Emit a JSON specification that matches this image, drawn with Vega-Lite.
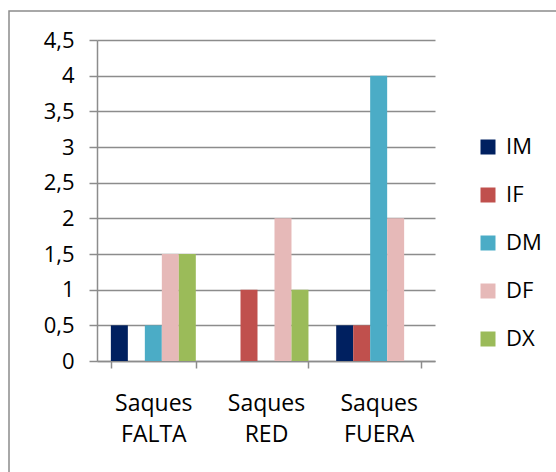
{
  "$schema": "https://vega.github.io/schema/vega-lite/v6.json",
  "autosize": {"type": "none"},
  "padding": {"left": 9, "top": 11, "right": 0, "bottom": 0},
  "width": 560,
  "height": 470,
  "background": "white",
  "config": {
    "font": "Open Sans",
    "view": {"stroke": "#8c8c8c", "strokeWidth": 1.5}
  },
  "data": {
    "values": [
      {"cat": "Saques FALTA", "serie": "IM", "v": 0.5},
      {"cat": "Saques FALTA", "serie": "IF", "v": 0},
      {"cat": "Saques FALTA", "serie": "DM", "v": 0.5},
      {"cat": "Saques FALTA", "serie": "DF", "v": 1.5},
      {"cat": "Saques FALTA", "serie": "DX", "v": 1.5},
      {"cat": "Saques RED", "serie": "IM", "v": 0},
      {"cat": "Saques RED", "serie": "IF", "v": 1},
      {"cat": "Saques RED", "serie": "DM", "v": 0},
      {"cat": "Saques RED", "serie": "DF", "v": 2},
      {"cat": "Saques RED", "serie": "DX", "v": 1},
      {"cat": "Saques FUERA", "serie": "IM", "v": 0.5},
      {"cat": "Saques FUERA", "serie": "IF", "v": 0.5},
      {"cat": "Saques FUERA", "serie": "DM", "v": 4},
      {"cat": "Saques FUERA", "serie": "DF", "v": 2},
      {"cat": "Saques FUERA", "serie": "DX", "v": 0}
    ]
  },
  "mark": {"type": "bar"},
  "encoding": {
    "x": {
      "field": "cat",
      "type": "nominal",
      "sort": ["Saques FALTA", "Saques RED", "Saques FUERA"],
      "scale": {"range": [88, 426], "paddingInner": 0.246, "paddingOuter": 0.123},
      "axis": {
        "title": null,
        "offset": -120,
        "labelAngle": 0,
        "labelExpr": "split(datum.label, ' ')",
        "labelFontSize": 23,
        "labelLineHeight": 31,
        "labelPadding": 24,
        "labelColor": "#000000",
        "domainColor": "#8c8c8c",
        "domainWidth": 1.5,
        "tickColor": "#8c8c8c",
        "tickWidth": 1.5,
        "tickSize": 7,
        "tickBand": "extent",
        "grid": false
      }
    },
    "xOffset": {
      "field": "serie",
      "type": "nominal",
      "sort": ["IM", "IF", "DM", "DF", "DX"],
      "scale": {"paddingInner": 0, "paddingOuter": 0}
    },
    "y": {
      "field": "v",
      "type": "quantitative",
      "scale": {"domain": [0, 4.5], "range": [350, 29], "nice": false},
      "axis": {
        "title": null,
        "offset": -88,
        "values": [0, 0.5, 1, 1.5, 2, 2.5, 3, 3.5, 4, 4.5],
        "format": "~g",
        "labelExpr": "replace(datum.label, '.', ',')",
        "labelFontSize": 22,
        "labelPadding": 15,
        "labelColor": "#000000",
        "domainColor": "#8c8c8c",
        "domainWidth": 1.5,
        "tickColor": "#8c8c8c",
        "tickWidth": 1.5,
        "tickSize": 8,
        "grid": true,
        "gridColor": "#8c8c8c",
        "gridWidth": 1.5
      }
    },
    "color": {
      "field": "serie",
      "type": "nominal",
      "sort": ["IM", "IF", "DM", "DF", "DX"],
      "scale": {
        "domain": ["IM", "IF", "DM", "DF", "DX"],
        "range": ["#002060", "#C0504D", "#4BACC6", "#E6B9B8", "#9BBB59"]
      },
      "legend": {
        "title": null,
        "orient": "none",
        "legendX": 468,
        "legendY": 125,
        "padding": 0,
        "symbolType": "square",
        "symbolSize": 225,
        "symbolStrokeWidth": 0,
        "labelFontSize": 22,
        "labelOffset": 7,
        "labelColor": "#000000",
        "rowPadding": 26
      }
    }
  }
}
